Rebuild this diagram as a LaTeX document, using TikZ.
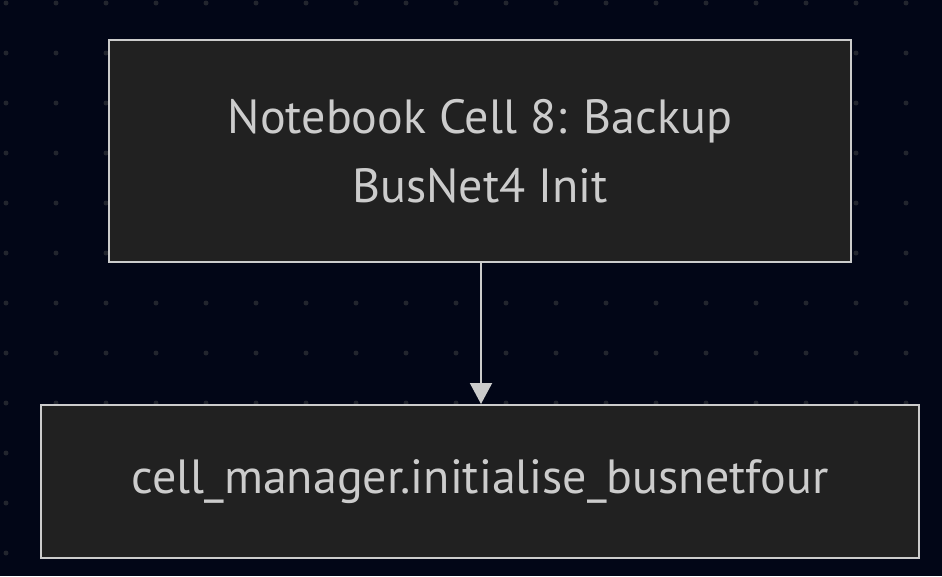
\documentclass[tikz,border=0pt]{standalone}
\usepackage{fontspec}
\setmainfont{PT Sans}
\usetikzlibrary{arrows.meta,positioning}
\definecolor{bgnavy}{HTML}{020617}
\definecolor{gridgray}{HTML}{22252E}
\definecolor{cellfill}{HTML}{212121}
\definecolor{cellline}{HTML}{CCCCCC}
\tikzset{
  cellbox/.style={draw=cellline,line width=2pt,fill=cellfill,text=cellline,align=center,inner sep=0pt,font=\fontsize{48}{69}\selectfont},
  flowarrow/.style={draw=cellline,line width=2pt,-{Triangle[width=22pt,length=21pt]}}
}

\begin{document}
\begin{tikzpicture}[x=1pt,y=-1pt]
\fill[bgnavy] (0,0) rectangle (942,576);
\useasboundingbox (0,0) rectangle (942,576);
\foreach \x in {6,56,...,956} {
  \foreach \y in {3,53,...,576} {
    \fill[gridgray] (\x,\y) circle (2.5pt);
  }
}
\node[cellbox,minimum width=742pt,minimum height=222pt] (backup) at (480,151) {Notebook Cell 8: Backup\\BusNet4 Init};
\node[cellbox,minimum width=878pt,minimum height=153pt] (initbus) at (480,481.5) {cell\_manager.initialise\_busnetfour};
\draw[flowarrow] (backup.south -| 481,0) -- (initbus.north -| 481,0);
\end{tikzpicture}
\end{document}
